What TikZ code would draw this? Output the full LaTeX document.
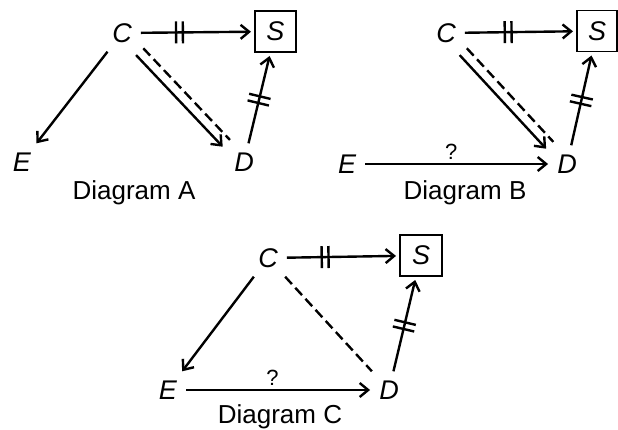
\documentclass[tikz,border=0pt]{standalone}
\usepackage{fontspec}
\setmainfont{Liberation Sans}
\usetikzlibrary{arrows.meta,decorations.markings}
\begin{document}
\begin{tikzpicture}[x=1pt,y=-1pt,
  lbl/.style={font=\fontsize{27}{30}\selectfont\itshape, text height=19pt, text depth=0pt, inner sep=9pt},
  sbox/.style={draw, line width=1.6pt, minimum width=41pt, minimum height=41pt, inner sep=0pt, outer sep=4pt, font=\fontsize{27}{30}\selectfont\itshape, text height=19pt, text depth=0pt},
  capt/.style={font=\fontsize{26}{30}\selectfont, inner sep=0pt, anchor=base},
  qm/.style={font=\fontsize{22}{24}\selectfont, inner sep=0pt, anchor=south},
  arr/.style={line width=2.4pt, -{Straight Barb[length=8.5pt,width=14pt]}},
  dsh/.style={line width=2.4pt, dash pattern=on 10pt off 5pt},
  brk/.style={postaction={decorate, decoration={markings, mark=at position #1 with {\draw[line width=2.4pt,-] (-3.4pt,-11pt)--(-3.4pt,11pt) (3.4pt,-11pt)--(3.4pt,11pt);}}}}
]
\useasboundingbox (0,0) rectangle (618,430);

% Diagram A
\node[lbl] (Ca) at (122,33) {C};
\node[sbox] (Sa) at (275.5,31.5) {S};
\node[lbl] (Ea) at (22,162) {E};
\node[lbl] (Da) at (244,162) {D};
\node[capt] (la) at (134,200) {Diagram A};
\draw[arr, brk=0.35] (Ca) -- (Sa);
\draw[arr] (Ca) -- (Ea);
\draw[arr, transform canvas={xshift=-3.6pt,yshift=-3.4pt}] (Ca) -- (Da);
\draw[dsh, transform canvas={xshift=3.6pt,yshift=3.4pt}] (Ca) -- (Da);
\draw[arr, brk=0.5] (Da) -- (Sa);

% Diagram B
\node[lbl] (Cb) at (446,33) {C};
\node[sbox, minimum width=40pt] (Sb) at (597,31) {S};
\node[lbl] (Eb) at (347,164) {E};
\node[lbl] (Db) at (567,164) {D};
\node[capt] (lb) at (465,200) {Diagram B};
\draw[arr, brk=0.4] (Cb) -- (Sb);
\draw[arr, transform canvas={xshift=-3.6pt,yshift=-3.4pt}] (Cb) -- (Db);
\draw[dsh, transform canvas={xshift=3.6pt,yshift=3.4pt}] (Cb) -- (Db);
\draw[arr] (Eb) -- node[qm, pos=0.47, yshift=3pt] (qb) {?} (Db);
\draw[arr, brk=0.5] (Db) -- (Sb);

% Diagram C
\node[lbl] (Cc) at (268,258) {C};
\node[sbox, minimum width=42pt] (Sc) at (421,255.5) {S};
\node[lbl] (Ec) at (168,390) {E};
\node[lbl] (Dc) at (389,390) {D};
\node[capt] (lc) at (280,423) {Diagram C};
\draw[arr, brk=0.35] (Cc) -- (Sc);
\draw[arr] (Cc) -- (Ec);
\draw[dsh] (Cc) -- (Dc);
\draw[arr] (Ec) -- node[qm, pos=0.47, yshift=3pt] (qc) {?} (Dc);
\draw[arr, brk=0.5] (Dc) -- (Sc);
\end{tikzpicture}
\end{document}
